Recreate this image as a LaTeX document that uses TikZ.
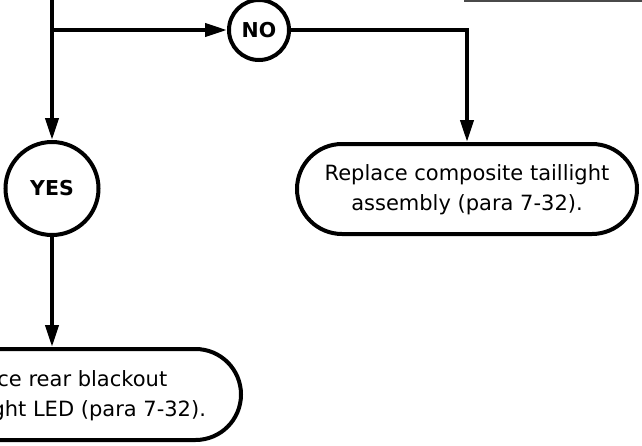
\documentclass[tikz,border=0pt]{standalone}
\usepackage{fontspec}
\setmainfont{DejaVu Sans}
\usetikzlibrary{arrows.meta,shapes.misc}
\definecolor{ink}{HTML}{000000}
\definecolor{edgegray}{HTML}{4A4A4A}
\begin{document}
\begin{tikzpicture}[x=1pt,y=1pt,
  flow/.style={line width=4pt,draw=ink,-{Triangle[length=22pt,width=13pt]}},
  decision/.style={circle,draw=ink,line width=4pt,text=ink,font=\fontsize{20.5}{24}\selectfont\bfseries,inner sep=0pt},
  action/.style={rounded rectangle,draw=ink,line width=4pt,text=ink,font=\fontsize{21}{30}\selectfont,align=center,inner sep=0pt}]
\useasboundingbox (0,0) rectangle (642,-445);
\clip (0,0) rectangle (642,-445);
% fragment of a box above the picture
\coordinate (edgeL) at (464,-0.75);
\coordinate (edgeR) at (650,-0.75);
\draw[line width=1.5pt,draw=edgegray] (edgeL) -- (edgeR);
% nodes
\coordinate (top) at (52,10);
\coordinate (split) at (52,-30);
\node[decision,minimum size=60pt] (no) at (259,-30) {NO};
\coordinate (turn) at (467,-30);
\node[action,minimum width=340pt,minimum height=90pt] (replace) at (467,-189)
  {\rule{0pt}{18pt}Replace composite taillight\\assembly (para 7-32).};
\node[decision,minimum size=93pt] (yes) at (52,-188.5) {YES};
\node[action,minimum width=321pt,minimum height=91pt] (led) at (80.5,-394.5)
  {\rule{0pt}{18pt}Replace rear blackout\hbox to 55pt{\hfil}\\taillight LED (para 7-32).\hbox to 8pt{\hfil}};
% connectors
\draw[flow] (top) -- (yes);
\draw[flow] (split) -- (no);
\draw[flow] (no) -- (turn) -- (replace);
\draw[flow] (yes.south) -- (yes.south |- led.north);
\end{tikzpicture}
\end{document}
